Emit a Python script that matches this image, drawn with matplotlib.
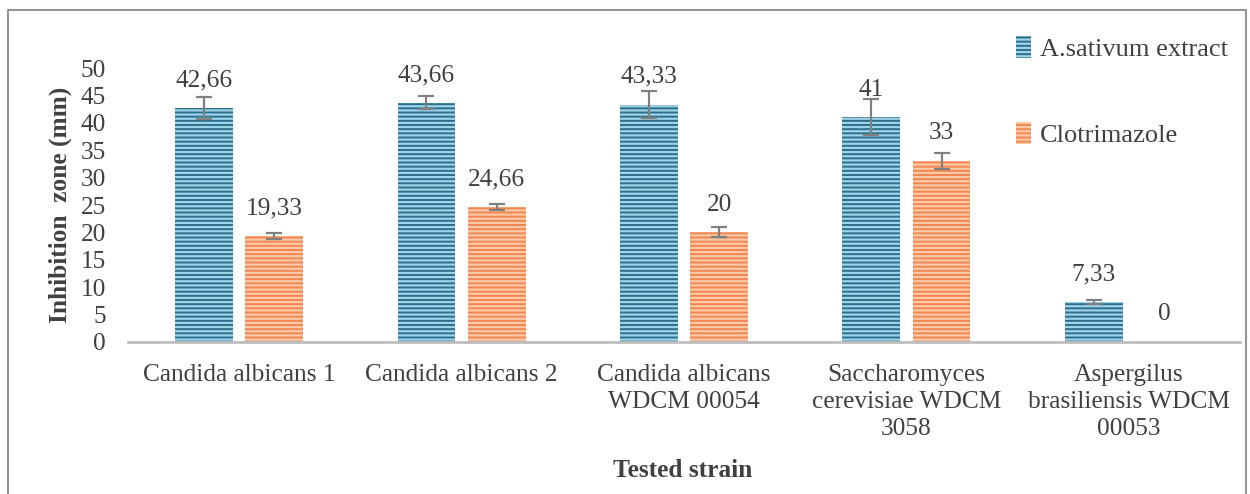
import matplotlib.pyplot as plt
import matplotlib.patches as mpatches
import numpy as np

plt.rcParams['font.family'] = ['Liberation Serif', 'DejaVu Serif']
plt.rcParams['hatch.linewidth'] = 1.6

# data
strains = ["Candida albicans 1", "Candida albicans 2", "Candida albicans\nWDCM 00054",
           "Saccharomyces\ncerevisiae WDCM\n3058", "Aspergilus\nbrasiliensis WDCM\n00053"]
extract = [42.66, 43.66, 43.33, 41, 7.33]
extract_err = [2.0, 1.2, 2.5, 3.3, 0.4]
clotri = [19.33, 24.66, 20, 33, 0]
clotri_err = [0.5, 0.5, 0.9, 1.5, 0]
extract_lbl = ["42,66", "43,66", "43,33", "41", "7,33"]
clotri_lbl = ["19,33", "24,66", "20", "33", "0"]

txt = '#404040'
fs = 18.3
fig = plt.figure(figsize=(12.5, 4.94), dpi=100)
ax = fig.add_axes([0.1024, 0.3077, 0.8896, 0.5546])

x = np.arange(len(strains))
w = 0.26
off = 0.158
b1 = ax.bar(x - off, extract, w, color='#2a6f8f', edgecolor='#9fd3e6', hatch='----', linewidth=0)
b2 = ax.bar(x + off, clotri, w, color='#f2864f', edgecolor='#fcc9a8', hatch='----', linewidth=0)
ax.errorbar(x - off, extract, yerr=extract_err, fmt='none', ecolor='#808080', elinewidth=1.6, capsize=5.5, capthick=1.6)
ax.errorbar(x[:4] + off, clotri[:4], yerr=clotri_err[:4], fmt='none', ecolor='#808080', elinewidth=1.6, capsize=5.5, capthick=1.6)

for xi, v, s in zip(x - off, extract, extract_lbl):
    ax.annotate(s, (xi, v), xytext=(0, 20), textcoords='offset points', ha='center', va='center', fontsize=fs, color=txt)
for xi, v, s in zip(x + off, clotri, clotri_lbl):
    ax.annotate(s, (xi, v), xytext=(0, 20), textcoords='offset points', ha='center', va='center', fontsize=fs, color=txt)

ax.set_xlim(-0.5, 4.5)
ax.set_ylim(0, 50)
ax.set_yticks(range(0, 51, 5))
ax.set_xticks(x)
ax.set_xticklabels(strains, fontsize=fs, color=txt, linespacing=1.28)
ax.tick_params(axis='y', length=0, labelsize=fs, labelcolor=txt, pad=16)
ax.tick_params(axis='x', length=0, pad=16)
for s in ['top', 'right', 'left']:
    ax.spines[s].set_visible(False)
ax.spines['bottom'].set_color('#bfbfbf')
ax.spines['bottom'].set_linewidth(2)

ax.set_ylabel("Inhibition  zone (mm)", fontsize=fs, fontweight='bold', color=txt, labelpad=6)
fig.text(0.5464, 0.048, "Tested strain", ha='center', va='center', fontsize=fs, fontweight='bold', color=txt)

fig.legend([b1, b2], ["A.sativum extract", "Clotrimazole"], loc='upper left', bbox_to_anchor=(0.794, 0.975),
           frameon=False, fontsize=fs + 0.7, labelcolor=txt, handlelength=0.55, handleheight=0.9,
           handletextpad=0.35, labelspacing=2.3)

fig.patches.append(mpatches.Rectangle((0.0064, -0.05), 0.99, 1.03, transform=fig.transFigure,
                                      fill=False, edgecolor='#7f7f7f', linewidth=1.2))

fig.savefig("out.png", dpi=100)
